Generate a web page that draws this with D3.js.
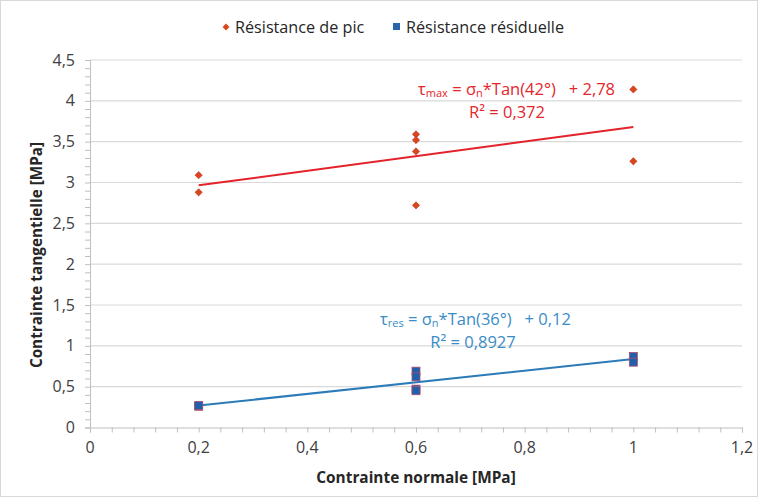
<!DOCTYPE html>
<html><head><meta charset="utf-8">
<script src="https://cdn.jsdelivr.net/npm/d3@7"></script>
<style>body{margin:0;background:#fff}svg{display:block}text{font-family:"Open Sans","Noto Sans",sans-serif}</style>
</head><body><svg id="c" width="758" height="497"></svg>
<script>
const peakX = [0.2, 0.2, 0.6, 0.6, 0.6, 0.6, 1, 1];
const peakY = [3.09, 2.88, 3.59, 3.52, 3.38, 2.72, 4.14, 3.26];
const resX = [0.2, 0.2, 0.6, 0.6, 0.6, 0.6, 1, 1];
const resY = [0.26, 0.27, 0.69, 0.62, 0.47, 0.45, 0.87, 0.80];
const xTicks = [0, 0.2, 0.4, 0.6, 0.8, 1, 1.2];
const yTicks = [0, 0.5, 1, 1.5, 2, 2.5, 3, 3.5, 4, 4.5];
const seriesNames = ["Résistance de pic", "Résistance résiduelle"];

const svg = d3.select("#c");
const W = 758, H = 497;
svg.append("rect").attr("x",0.5).attr("y",0.5).attr("width",W-1).attr("height",H-1).attr("fill","#fff").attr("stroke","#d9d9d9");

const x = d3.scaleLinear().domain([0,1.2]).range([90,742]);
const y = d3.scaleLinear().domain([0,4.5]).range([427.5,60]);
const fmt = v => String(v).replace(".", ",");

svg.append("g").selectAll("line").data(yTicks.slice(1)).join("line")
  .attr("x1",x(0)).attr("x2",x(1.2)).attr("y1",d=>y(d)).attr("y2",d=>y(d))
  .attr("stroke","#d9d9d9").attr("stroke-width",1.2);

const yMinor = d3.range(0,46).map(i=>i/10);
const gy = svg.append("g").attr("transform",`translate(${x(0)},0)`)
  .call(d3.axisLeft(y).tickValues(yMinor).tickSize(5).tickFormat(""));
gy.select(".domain").attr("stroke","#bfbfbf");
gy.selectAll(".tick line").attr("stroke","#bfbfbf");
svg.append("g").selectAll("text").data(yTicks).join("text")
  .attr("x",x(0)-15).attr("y",d=>y(d)).attr("dy","0.35em").attr("text-anchor","end")
  .attr("font-size",16).attr("fill","#404040").text(fmt);

const xMinor = d3.range(0,31).map(i=>+(i*0.04).toFixed(2));
const gx = svg.append("g").attr("transform",`translate(0,${y(0)})`)
  .call(d3.axisBottom(x).tickValues(xMinor).tickSize(5).tickFormat(""));
gx.select(".domain").attr("stroke","#bfbfbf");
gx.selectAll(".tick line").attr("stroke","#bfbfbf");
svg.append("g").selectAll("text").data(xTicks).join("text")
  .attr("x",d=>x(d)).attr("y",y(0)+25).attr("text-anchor","middle")
  .attr("font-size",16).attr("fill","#404040").text(fmt);

svg.append("text").attr("x",416).attr("y",483).attr("text-anchor","middle")
  .attr("font-size",15.4).attr("font-weight","bold").attr("fill","#262626").text("Contrainte normale [MPa]");
svg.append("text").attr("transform","translate(42,255) rotate(-90)").attr("text-anchor","middle")
  .attr("font-size",15.3).attr("font-weight","bold").attr("fill","#262626").text("Contrainte tangentielle [MPa]");

function fit(xs, ys){
  const n=xs.length, mx=d3.mean(xs), my=d3.mean(ys);
  let sxy=0,sxx=0;
  for(let i=0;i<n;i++){sxy+=(xs[i]-mx)*(ys[i]-my);sxx+=(xs[i]-mx)**2;}
  const b=sxy/sxx; return {b, a: my-b*mx};
}
const line = d3.line().x(d=>x(d[0])).y(d=>y(d[1]));
[[peakX,peakY,"#e3222b"],[resX,resY,"#2b7bb9"]].forEach(([xs,ys,c])=>{
  const f=fit(xs,ys), x0=d3.min(xs), x1=d3.max(xs);
  svg.append("path").attr("d",line([[x0,f.a+f.b*x0],[x1,f.a+f.b*x1]]))
    .attr("stroke",c).attr("stroke-width",2).attr("fill","none");
});

const diamond = d3.symbol().type(d3.symbolDiamond2).size(34);
svg.append("g").selectAll("path").data(peakX.map((v,i)=>[v,peakY[i]])).join("path")
  .attr("d",diamond).attr("transform",d=>`translate(${x(d[0])},${y(d[1])})`)
  .attr("fill","#d9461c").attr("stroke","#c0302a").attr("stroke-width",0.6);
svg.append("g").selectAll("rect").data(resX.map((v,i)=>[v,resY[i]])).join("rect")
  .attr("x",d=>x(d[0])-4).attr("y",d=>y(d[1])-4).attr("width",8).attr("height",8)
  .attr("fill","#1f5fae").attr("stroke","#b0506a").attr("stroke-width",0.8);

function equation(xp, yp, sub, rest, color){
  const t = svg.append("text").attr("x",xp).attr("y",yp).attr("font-size",16.5).attr("fill",color)
    .style("white-space","pre");
  t.append("tspan").text("τ");
  t.append("tspan").attr("font-size",11).attr("dy",2).text(sub);
  t.append("tspan").attr("dy",-2).text(" = σ");
  t.append("tspan").attr("font-size",11).attr("dy",2).text("n");
  t.append("tspan").attr("dy",-2).text(rest);
}
equation(418, 95, "max", "*Tan(42°)\u00A0\u00A0\u00A0+ 2,78", "#e3262b");
svg.append("text").attr("x",507).attr("y",118).attr("text-anchor","middle").attr("font-size",16.5).attr("fill","#e3262b").text("R² = 0,372");
equation(380, 325, "res", "*Tan(36°)\u00A0\u00A0\u00A0+ 0,12", "#3a8cc8");
svg.append("text").attr("x",473).attr("y",348).attr("text-anchor","middle").attr("font-size",16.5).attr("fill","#3a8cc8").text("R² = 0,8927");

const lg = svg.append("g");
lg.append("path").attr("d",d3.symbol().type(d3.symbolDiamond2).size(30)).attr("transform","translate(226,27)").attr("fill","#d9461c");
lg.append("text").attr("x",235).attr("y",33).attr("font-size",16.2).attr("fill","#262626").text(seriesNames[0]);
lg.append("rect").attr("x",393).attr("y",23).attr("width",7).attr("height",7).attr("fill","#2a64ad");
lg.append("text").attr("x",406).attr("y",33).attr("font-size",16.2).attr("fill","#262626").text(seriesNames[1]);
</script></body></html>
